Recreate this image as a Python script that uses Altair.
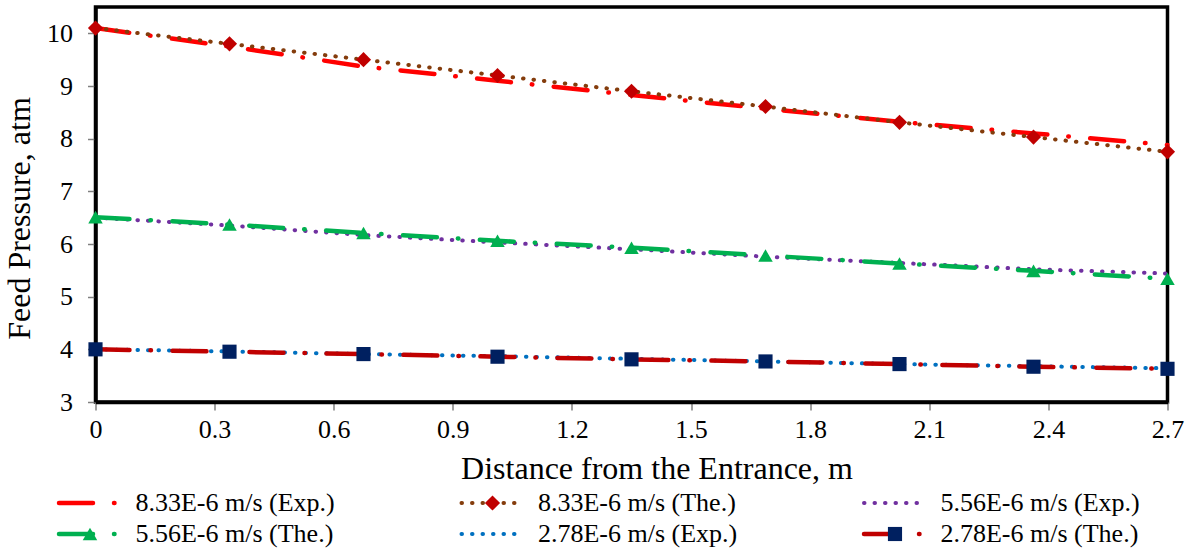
import altair as alt
import pandas as pd

# ---------------- data ----------------
x_pos = [0.0, 0.3375, 0.675, 1.0125, 1.35, 1.6875, 2.025, 2.3625, 2.7]

p833_exp = [10.10, 9.75, 9.37, 9.10, 8.83, 8.57, 8.32, 8.10, 7.88]
p833_the = [10.10, 9.80, 9.50, 9.20, 8.90, 8.61, 8.31, 8.03, 7.75]
p556_exp = [6.50, 6.35, 6.17, 6.03, 5.90, 5.76, 5.64, 5.52, 5.44]
p556_the = [6.51, 6.37, 6.21, 6.06, 5.93, 5.78, 5.63, 5.49, 5.34]
p278_exp = [4.00, 3.96, 3.91, 3.87, 3.82, 3.77, 3.72, 3.68, 3.64]
p278_the = [4.00, 3.955, 3.91, 3.86, 3.81, 3.77, 3.72, 3.67, 3.63]

series_names = [
    "8.33E-6 m/s (Exp.)", "8.33E-6 m/s (The.)", "5.56E-6 m/s (Exp.)",
    "5.56E-6 m/s (The.)", "2.78E-6 m/s (Exp.)", "2.78E-6 m/s (The.)",
]
series_values = [p833_exp, p833_the, p556_exp, p556_the, p278_exp, p278_the]

x_ticks = [0, 0.3, 0.6, 0.9, 1.2, 1.5, 1.8, 2.1, 2.4, 2.7]
y_ticks = [3, 4, 5, 6, 7, 8, 9, 10]

# ---------------- styles ----------------
FONT = "Times New Roman, Liberation Serif, serif"
LONG_DASH_DOT = [34, 21, 0.5, 21.5]
DOTS = [0.5, 10]
line_colors = ["#FF0000", "#843C0C", "#7030A0", "#00B050", "#0070C0", "#C00000"]
line_dashes = [LONG_DASH_DOT, DOTS, DOTS, LONG_DASH_DOT, DOTS, LONG_DASH_DOT]
line_widths = [4.5, 4, 4, 4.5, 4, 4.5]
marker_shapes = [None, "diamond", None, "triangle-up", None, "square"]
marker_colors = [None, "#C00000", None, "#00B050", None, "#002060"]
marker_sizes = [None, 230, None, 210, None, 200]

xscale = alt.Scale(domain=[0, 2.7], nice=False, zero=False)
yscale = alt.Scale(domain=[3, 10.5], nice=False, zero=False)

x_axis = alt.Axis(
    values=x_ticks, format=".1~f", title="Distance from the Entrance, m",
    grid=False, domainColor="black", domainWidth=3.5,
    tickColor="#808080", tickWidth=1.5, tickSize=8,
    labelFont=FONT, labelFontSize=26, labelColor="black", labelPadding=6,
    titleFont=FONT, titleFontSize=32, titleFontWeight="normal",
    titleColor="black", titleX=561, titleY=66, titleBaseline="middle",
    labelFlush=False, labelOverlap=False,
)
y_axis = alt.Axis(
    values=y_ticks, format="d", title="Feed Pressure, atm",
    grid=False, domainColor="black", domainWidth=3.5,
    tickColor="#808080", tickWidth=1.5, tickSize=8,
    labelFont=FONT, labelFontSize=26, labelColor="black", labelPadding=15,
    titleFont=FONT, titleFontSize=32, titleFontWeight="normal",
    titleColor="black", titlePadding=10, titleY=211,
    labelFlush=False, labelOverlap=False,
)

data_layers = []
for i, name in enumerate(series_names):
    df = pd.DataFrame({"x": x_pos, "y": series_values[i], "series": name})
    base = alt.Chart(df).encode(
        x=alt.X("x:Q", scale=xscale, axis=x_axis),
        y=alt.Y("y:Q", scale=yscale, axis=y_axis),
    )
    data_layers.append(
        base.mark_line(
            color=line_colors[i], strokeDash=line_dashes[i],
            strokeWidth=line_widths[i], strokeCap="round",
        )
    )
    if marker_shapes[i]:
        data_layers.append(
            base.mark_point(
                shape=marker_shapes[i], filled=True, opacity=1,
                color=marker_colors[i], size=marker_sizes[i],
            )
        )

plot = alt.layer(*data_layers)

# ---------------- legend (3 columns x 2 rows, below the plot) ----------------
leg_col = [i % 3 for i in range(6)]
leg_row = [i // 3 for i in range(6)]
SEG = 0.154         # symbol length, in column units
TXT = 0.19          # text start, in column units
leg = pd.DataFrame({
    "label": series_names,
    "xs": [c for c in leg_col],
    "xe": [c + SEG for c in leg_col],
    "xm": [c + SEG / 2 for c in leg_col],
    "xt": [c + TXT for c in leg_col],
    "row": leg_row,
})
lx = alt.Scale(domain=[0, 3], range=[-36.5, 1171])
ly = alt.Scale(domain=[0, 1], range=[496, 527])

legend_layers = []
for i, name in enumerate(series_names):
    d = leg[leg["label"] == name]
    lb = alt.Chart(d)
    legend_layers.append(
        lb.mark_rule(
            color=line_colors[i], strokeDash=line_dashes[i],
            strokeWidth=line_widths[i], strokeCap="round",
        ).encode(
            x=alt.X("xs:Q", scale=lx, axis=None),
            x2="xe:Q",
            y=alt.Y("row:Q", scale=ly, axis=None),
        )
    )
    if marker_shapes[i]:
        legend_layers.append(
            lb.mark_point(
                shape=marker_shapes[i], filled=True, opacity=1,
                color=marker_colors[i], size=marker_sizes[i],
            ).encode(
                x=alt.X("xm:Q", scale=lx, axis=None),
                y=alt.Y("row:Q", scale=ly, axis=None),
            )
        )
    legend_layers.append(
        lb.mark_text(
            align="left", baseline="middle", font=FONT, fontSize=26,
            color="black",
        ).encode(
            x=alt.X("xt:Q", scale=lx, axis=None),
            y=alt.Y("row:Q", scale=ly, axis=None),
            text="label:N",
        )
    )

legend = alt.layer(*legend_layers)

chart = (
    alt.layer(plot, legend)
    .resolve_scale(x="independent", y="independent")
    .properties(
        width=1072, height=395,
        autosize=alt.AutoSizeParams(type="none"),
        padding={"left": 95.5, "top": 7, "right": 24.5, "bottom": 152},
        background="white",
    )
    .configure_view(stroke="black", strokeWidth=3.5)
)

chart.save("out.html", embed_options={"renderer": "svg", "actions": False})
